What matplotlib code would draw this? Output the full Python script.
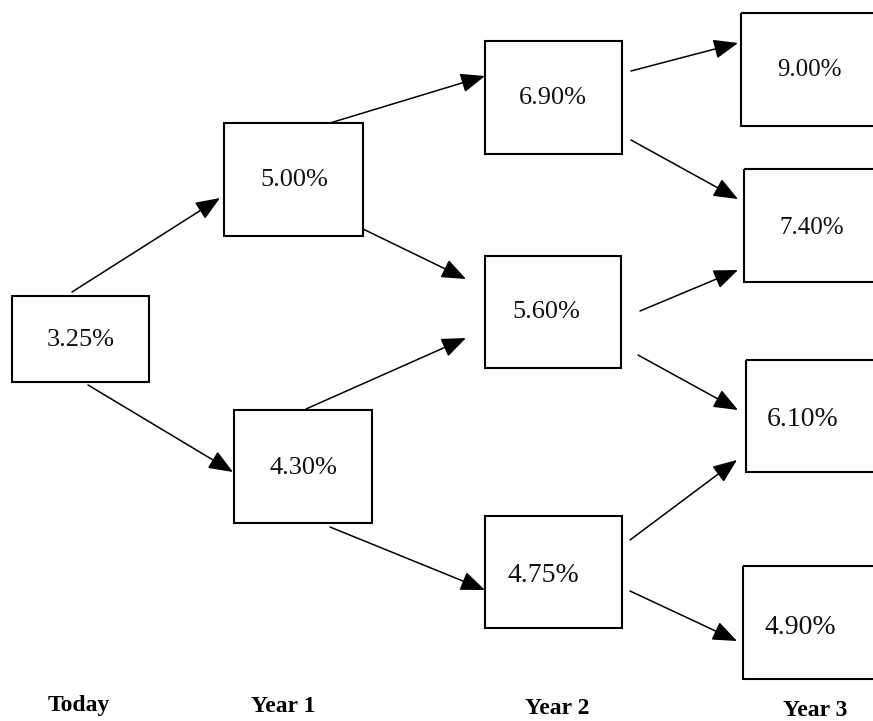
import matplotlib
matplotlib.use("Agg")
import matplotlib.pyplot as plt
from matplotlib.patches import Rectangle, FancyArrowPatch

# nodes of the rate tree (pixel space, y down)
rates = ["3.25%", "5.00%", "4.30%", "6.90%", "5.60%", "4.75%",
         "9.00%", "7.40%", "6.10%", "4.90%"]
box_x0 = [12, 224, 234, 485, 485, 485, 741, 744, 746, 743]
box_x1 = [149, 363, 372, 622, 621, 622, 880, 880, 880, 880]
box_y0 = [296, 123, 410, 41, 256, 516, 13, 169, 360, 566]
box_y1 = [382, 236, 523, 154, 368, 628, 126, 282, 472, 679]
text_x = [81, 294, 303, 553, 546, 543, 809, 812, 803, 800]
text_y = [340, 180, 468, 98, 312, 575, 70, 228, 420, 627]
text_size = [19, 19, 19, 19, 19, 20, 18, 18, 20, 20]

# arrows: start and tip
arr_x0 = [72, 88, 330, 363, 306, 330, 631, 631, 640, 638, 630, 630]
arr_y0 = [292, 385, 123, 229, 409, 527, 71, 140, 311, 355, 540, 591]
arr_x1 = [220, 233, 485, 466, 466, 485, 738, 738, 738, 738, 737, 737]
arr_y1 = [198, 472, 76, 279, 338, 590, 43, 199, 270, 410, 460, 641]

periods = ["Today", "Year 1", "Year 2", "Year 3"]
period_x = [79, 283, 557, 815]
period_y = [706, 706, 708, 711]

fig = plt.figure(figsize=(8.73, 7.21), dpi=100)
ax = fig.add_axes([0, 0, 1, 1])
ax.set_xlim(0, 873)
ax.set_ylim(721, 0)
ax.axis("off")

serif = ["Liberation Serif", "DejaVu Serif"]

for i in range(len(rates)):
    ax.add_patch(Rectangle((box_x0[i], box_y0[i]), box_x1[i] - box_x0[i],
                           box_y1[i] - box_y0[i], fill=False,
                           edgecolor="black", linewidth=1.5))
    ax.text(text_x[i], text_y[i], rates[i], family=serif,
            fontsize=text_size[i], ha="center", va="center", color="#111111")

for i in range(len(arr_x0)):
    ax.add_patch(FancyArrowPatch((arr_x0[i], arr_y0[i]), (arr_x1[i], arr_y1[i]),
                                 arrowstyle="-|>,head_length=0.75,head_width=0.3",
                                 mutation_scale=20, shrinkA=0, shrinkB=0,
                                 color="black", linewidth=1.1))

for i in range(len(periods)):
    ax.text(period_x[i], period_y[i], periods[i], family=serif, fontsize=17,
            fontweight="bold", ha="center", va="center")

fig.savefig("out.png", dpi=100)
